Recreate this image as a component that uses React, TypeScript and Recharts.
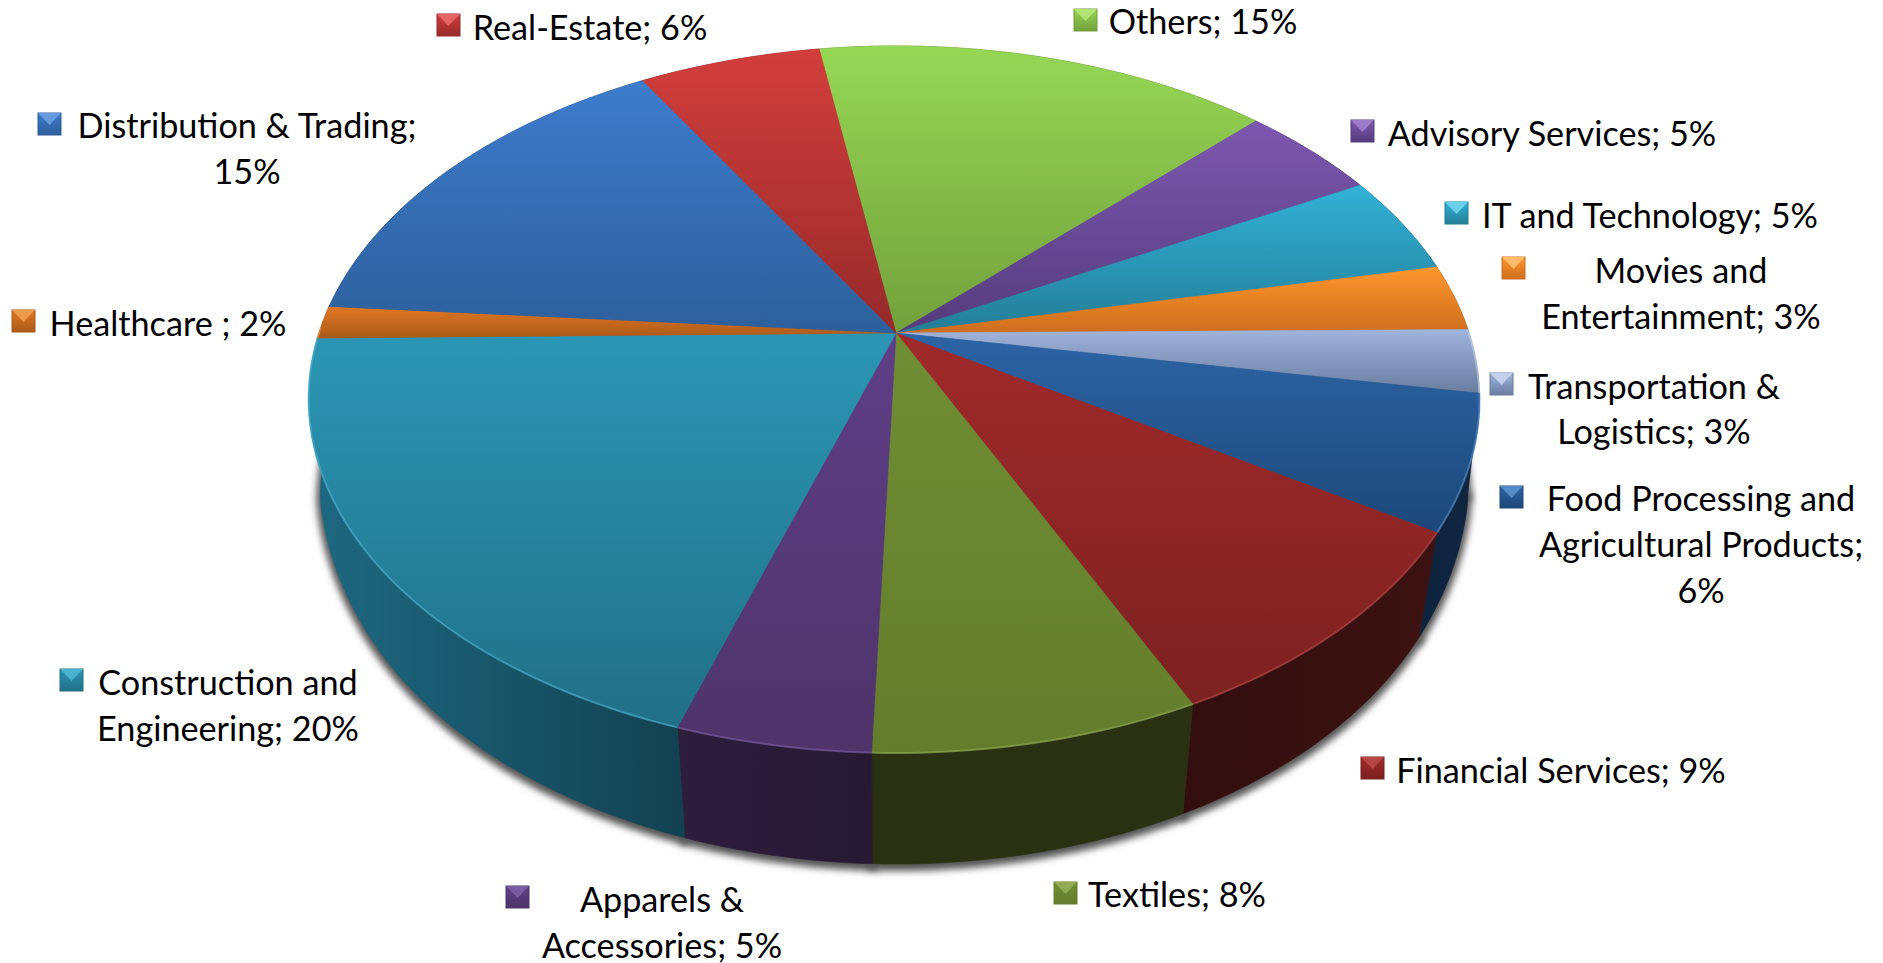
import React from "react";
import { PieChart, Pie } from "recharts";

const names = ["Others","Advisory Services","IT and Technology","Movies and Entertainment","Transportation & Logistics","Food Processing and Agricultural Products","Financial Services","Textiles","Apparels & Accessories","Construction and Engineering","Healthcare","Distribution & Trading","Real-Estate"];
const values = [15.1,4.6,4.6,3.05,2.9,6.1,9.1,7.6,4.5,19.7,1.5,15.2,6.0];
const labelLines = [
  ["Others; 15%"],["Advisory Services; 5%"],["IT and Technology; 5%"],["Movies and","Entertainment; 3%"],
  ["Transportation &","Logistics; 3%"],["Food Processing and","Agricultural Products;","6%"],["Financial Services; 9%"],
  ["Textiles; 8%"],["Apparels &","Accessories; 5%"],["Construction and","Engineering; 20%"],["Healthcare ; 2%"],
  ["Distribution & Trading;","15%"],["Real-Estate; 6%"],
];
const topColors = ["#96d755","#7d58af","#32b2d7","#ff962d","#a0b4dc","#2d64a5","#a02a2a","#708e34","#5f3e87","#2b96b4","#e17823","#3e7ccd","#d23e3c"];
const bottomColors = ["#73a03c","#553c7d","#237d96","#cd6e1e","#697da0","#1c4878","#7d2121","#647d2d","#4e3469","#217087","#aa5a19","#2d5f9b","#962a2a"];
const sideLeft = ["#4a6a28","#3a2a55","#17566a","#8a4a10","#4a5a78","#0e233c","#320e0e","#2a3012","#2d1e3c","#1e6982","#7a3f10","#1f4470","#601a1a"];
const sideRight = ["#4a6a28","#3a2a55","#17566a","#8a4a10","#4a5a78","#102540","#3c1212","#2a3012","#261932","#124150","#7a3f10","#1f4470","#601a1a"];
const edgeColors = ["#b4e678","#a080cc","#70d4ee","#ffc070","#c8d4ee","#5a90cc","#b84a4a","#93ad55","#7d5fa5","#4cb4d2","#f0a050","#6a9ee0","#e86a68"];

const keyBoxes = [[1074,9],[1351,120],[1445,202],[1502,257],[1490,373],[1500,486],[1361,757],[1054,882],[506,886],[60,669],[12,310],[38,113],[437,14]];
const textAnchors = [
  [1203,[33.5]],[1552,[145.5]],[1650,[227.5]],[1681,[282.5,328.5]],[1654,[398.5,443.5]],[1701,[510.5,556.5,602.5]],
  [1561,[782.5]],[1177,[906.5]],[662,[911.5,957.5]],[228,[694.5,740.5]],[168,[335.5]],[247,[137.5,183.5]],[590,[39.5]],
];

const tableData = names.map((name, i) => ({ name, value: values[i] }));

const CX = 896, CY = 333, R = 575, VR = 341 / 575, K = 0.188, SHIFT = -2;
const project = (theta: number) => {
  const t = (theta * Math.PI) / 180;
  const c = Math.cos(t);
  const w = 1 + K * Math.sin(t);
  return [CX + SHIFT * c * c + (R * c) / w, CY - (R * VR * Math.sin(t)) / w];
};
const lower = ([x, y]: number[]) => {
  const dy = y - CY;
  const t = Math.min(1, Math.max(0, (220 - dy) / 154));
  const s = 0.967 + 0.013 * t * t;
  return [CX + s * (x - CX), CY + 1.03 * dy + 98.5];
};
const angles = (a: number, b: number) => {
  const n = Math.max(2, Math.ceil(Math.abs(a - b)));
  return Array.from({ length: n + 1 }, (_, i) => a + ((b - a) * i) / n);
};
const arc = (a: number, b: number) => angles(a, b).map(project);
const str = (pts: number[][]) => pts.map((p) => `${p[0].toFixed(1)},${p[1].toFixed(1)}`).join(" ");

const TopShape = (p: any) => {
  const pts = arc(p.startAngle, p.endAngle);
  const front = angles(p.startAngle, p.endAngle).filter((t) => Math.sin((t * Math.PI) / 180) < 0.02).map(project);
  const i = p.index;
  return (
    <g>
      <polygon points={`${CX},${CY} ${str(pts)}`} fill={`url(#top${i})`} stroke={`url(#top${i})`} strokeWidth={0.6} />
      {front.length > 1 && <polyline points={str(front)} fill="none" stroke={edgeColors[i]} strokeWidth={2} opacity={0.6} />}
    </g>
  );
};
const SideShape = (p: any) => {
  const pts = arc(p.startAngle, p.endAngle);
  const low = pts.map(lower).reverse();
  return <polygon points={str([...pts, ...low])} fill={`url(#side${p.index})`} stroke={`url(#side${p.index})`} strokeWidth={0.6} />;
};
const ShadowShape = (p: any) => {
  const low = arc(p.startAngle, p.endAngle).map(lower).map(([x, y]) => [x, y + 3]);
  return <polygon points={`${CX},${CY + 98} ${str(low)}`} fill="#555" stroke="#555" strokeWidth={8} filter="url(#soft)" />;
};

const FS = 34.2;
const renderLabel = (p: any) => {
  const i = p.index;
  const [kx, ky] = keyBoxes[i];
  const [tx, bases] = textAnchors[i] as [number, number[]];
  const w = 23, h = 22;
  return (
    <g key={i}>
      <rect x={kx} y={ky} width={w} height={h} fill={`url(#key${i})`} stroke={bottomColors[i]} strokeWidth={1} />
      <polygon points={`${kx},${ky} ${kx + w},${ky} ${kx + w / 2},${ky + h * 0.55}`} fill={edgeColors[i]} opacity={0.9} />
      {labelLines[i].map((line, j) => (
        <text key={j} x={tx} y={bases[j]} textAnchor="middle" fontFamily="Lato" fontSize={FS} fill="#000">{line}</text>
      ))}
    </g>
  );
};

export default function App() {
  return (
    <div style={{ position: "absolute", left: 0, top: 0, width: 1883, height: 963, background: "#fff" }}>
      <PieChart width={1883} height={963} margin={{ top: 0, right: 0, bottom: 0, left: 0 }}>
        <defs>
          <filter id="soft" x="-30%" y="-30%" width="160%" height="160%"><feGaussianBlur stdDeviation="3.5" /></filter>
          {names.map((_, i) => (
            <React.Fragment key={i}>
              <linearGradient id={`top${i}`} x1="0" y1="0" x2="0" y2="1">
                <stop offset="0" stopColor={topColors[i]} />
                <stop offset="1" stopColor={bottomColors[i]} />
              </linearGradient>
              <linearGradient id={`side${i}`} x1="0" y1="0" x2="1" y2="0">
                <stop offset="0" stopColor={sideLeft[i]} />
                <stop offset="1" stopColor={sideRight[i]} />
              </linearGradient>
              <linearGradient id={`key${i}`} x1="0" y1="0" x2="0" y2="1">
                <stop offset="0" stopColor={topColors[i]} />
                <stop offset="1" stopColor={bottomColors[i]} />
              </linearGradient>
            </React.Fragment>
          ))}
        </defs>
        <Pie data={tableData} dataKey="value" nameKey="name" cx={CX} cy={CY} innerRadius={0} outerRadius={R} startAngle={99.1} endAngle={-260.9} stroke="none" shape={ShadowShape} isAnimationActive={false} label={false} labelLine={false} />
        <Pie data={tableData} dataKey="value" nameKey="name" cx={CX} cy={CY} innerRadius={0} outerRadius={R} startAngle={99.1} endAngle={-260.9} stroke="none" shape={SideShape} isAnimationActive={false} label={false} labelLine={false} />
        <Pie data={tableData} dataKey="value" nameKey="name" cx={CX} cy={CY} innerRadius={0} outerRadius={R} startAngle={99.1} endAngle={-260.9} stroke="none" shape={TopShape} isAnimationActive={false} label={renderLabel} labelLine={false} />
      </PieChart>
    </div>
  );
}
